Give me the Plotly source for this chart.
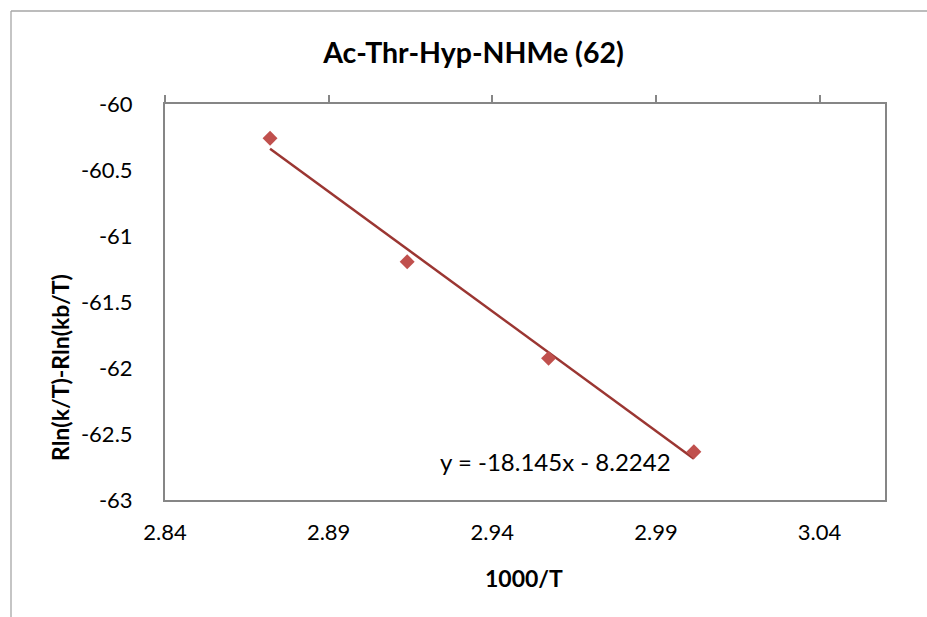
import numpy as np
import plotly.graph_objects as go

# Measured points: 1000/T versus R ln(k/T) - R ln(kb/T)
inv_temp = [2.8721, 2.9140, 2.9572, 3.0016]
rln_ratio = [-60.260, -61.195, -61.927, -62.634]

# Linear fit reported on the chart
fit_slope = -18.145
fit_intercept = -8.2242

x_tick_vals = [2.84, 2.89, 2.94, 2.99, 3.04]
x_tick_text = ["2.84", "2.89", "2.94", "2.99", "3.04"]
y_tick_vals = [-60, -60.5, -61, -61.5, -62, -62.5, -63]
y_tick_text = ["-60", "-60.5", "-61", "-61.5", "-62", "-62.5", "-63"]

title_text = "Ac-Thr-Hyp-NHMe (62)"
x_title = "1000/T"
y_title = "Rln(k/T)-Rln(kb/T)"
eq_text = "y = -18.145x - 8.2242"

FONT = "Lato"
AXIS_GREY = "#868686"

x_arr = np.array(inv_temp)
fit_x = np.array([x_arr.min(), x_arr.max()])
fit_y = fit_slope * fit_x + fit_intercept

fig = go.Figure()

fig.add_trace(go.Scatter(
    x=fit_x, y=fit_y, mode="lines",
    line=dict(color="#9b3632", width=2.5),
    hoverinfo="skip", showlegend=False,
))
fig.add_trace(go.Scatter(
    x=inv_temp, y=rln_ratio, mode="markers",
    marker=dict(symbol="diamond", size=11.5, color="#c0504d"),
    showlegend=False,
))
# empty trace so the top tick axis is drawn
fig.add_trace(go.Scatter(x=[], y=[], xaxis="x2", showlegend=False))

W, H = 927, 617
L, R, T, B = 165, 42, 104, 117
pw, ph = W - L - R, H - T - B


def px_x(p):
    return (p - L) / pw


def px_y(p):
    return (H - B - p) / ph


fig.update_layout(
    width=W, height=H,
    margin=dict(l=L, r=R, t=T, b=B, pad=0),
    paper_bgcolor="white", plot_bgcolor="white",
    font=dict(family=FONT, color="black", size=22),
    title=dict(
        text="<b>" + title_text + "</b>",
        font=dict(family=FONT, size=28.5, color="black"),
        xref="container", yref="container",
        x=473.5 / W, y=1 - 53 / H, xanchor="center", yanchor="middle",
    ),
    xaxis=dict(
        range=[2.84, 3.06], tickvals=x_tick_vals, ticktext=x_tick_text,
        showline=True, linecolor=AXIS_GREY, linewidth=2, mirror=True,
        ticks="", showgrid=False, zeroline=False,
        ticklabelstandoff=12,
        tickfont=dict(family=FONT, size=22, color="black"),
    ),
    xaxis2=dict(
        overlaying="x", side="top", matches="x",
        range=[2.84, 3.06], tickvals=x_tick_vals,
        showticklabels=False, ticks="outside", ticklen=8, tickwidth=2,
        tickcolor=AXIS_GREY, showline=False, showgrid=False, zeroline=False,
    ),
    yaxis=dict(
        range=[-63, -60], tickvals=y_tick_vals, ticktext=y_tick_text,
        showline=True, linecolor=AXIS_GREY, linewidth=2, mirror=True,
        ticks="", showgrid=False, zeroline=False,
        ticklabelstandoff=26,
        tickfont=dict(family=FONT, size=22, color="black"),
    ),
    annotations=[
        dict(text="<b>" + x_title + "</b>", xref="paper", yref="paper",
             x=px_x(524), y=px_y(578), xanchor="center", yanchor="middle",
             showarrow=False, font=dict(family=FONT, size=23, color="black")),
        dict(text="<b>" + y_title + "</b>", xref="paper", yref="paper",
             x=px_x(60), y=px_y(368), xanchor="center", yanchor="middle",
             textangle=-90, showarrow=False,
             font=dict(family=FONT, size=23, color="black")),
        dict(text=eq_text, xref="paper", yref="paper",
             x=px_x(555.5), y=px_y(461), xanchor="center", yanchor="middle",
             showarrow=False, font=dict(family=FONT, size=24, color="black")),
    ],
    shapes=[
        # outer chart border (left and top edges)
        dict(type="line", xref="paper", yref="paper",
             x0=px_x(11), x1=px_x(11), y0=px_y(11), y1=px_y(700),
             line=dict(color="#a6a6a6", width=1.3)),
        dict(type="line", xref="paper", yref="paper",
             x0=px_x(11), x1=px_x(1000), y0=px_y(11), y1=px_y(11),
             line=dict(color="#a6a6a6", width=1.3)),
    ],
)

fig.write_html("out.html")
